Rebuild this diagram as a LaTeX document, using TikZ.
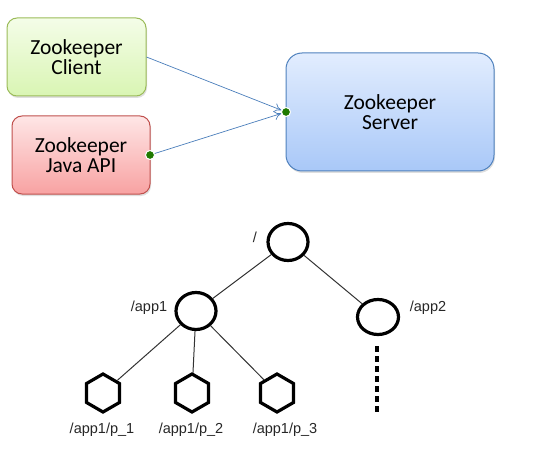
\documentclass[tikz,border=0pt]{standalone}
\usepackage{fontspec}
\setmainfont{Carlito}
\newfontfamily\arialfont{Liberation Sans}
\usetikzlibrary{shapes.geometric,arrows.meta,shadows}
\definecolor{gtop}{HTML}{F4FDE8}
\definecolor{gbot}{HTML}{D9F5B3}
\definecolor{gline}{HTML}{9BBB59}
\definecolor{rtop}{HTML}{FEE6E6}
\definecolor{rbot}{HTML}{F8A2A2}
\definecolor{rline}{HTML}{C0504D}
\definecolor{btop}{HTML}{E2EDFE}
\definecolor{bbot}{HTML}{A9C8F8}
\definecolor{bline}{HTML}{4F81BD}
\definecolor{arrline}{HTML}{4A7EBB}
\definecolor{dotgreen}{HTML}{1F7A00}
\tikzset{
  compbox/.style={draw, line width=1pt, rounded corners=10pt, align=center,
    font=\fontsize{21.5}{20}\selectfont, inner sep=0pt,
    drop shadow={opacity=0.25, shadow xshift=1pt, shadow yshift=-2pt}},
  joint/.style={circle, fill=dotgreen, draw=white, line width=1pt, inner sep=0pt, minimum size=9pt},
  link/.style={draw=arrline, line width=0.7pt, -{To[open, length=7pt, width=9pt]}},
  znode/.style={ellipse, draw, line width=3.2pt, inner sep=0pt},
  leaf/.style={regular polygon, regular polygon sides=6, shape border rotate=30, draw, line width=3.2pt, inner sep=0pt, minimum size=38pt},
  tlabel/.style={font=\arialfont\fontsize{14.5}{14.5}\selectfont, text=black!85, inner sep=0pt},
  tedge/.style={draw=black!80, line width=1pt}
}
\begin{document}
\begin{tikzpicture}[x=1pt,y=-1pt]
\useasboundingbox (0,0) rectangle (534,462);
% component boxes
\node[compbox, draw=gline, top color=gtop, bottom color=gbot, minimum width=139pt, minimum height=78pt] (client) at (76.5,57) {Zookeeper\\Client};
\node[compbox, draw=rline, top color=rtop, bottom color=rbot, minimum width=138pt, minimum height=78pt] (japi) at (81,155) {Zookeeper\\Java API};
\node[compbox, draw=bline, top color=btop, bottom color=bbot, rounded corners=16pt, minimum width=208pt, minimum height=118pt] (server) at (390,112) {Zookeeper\\Server};
\node[joint] (d1) at (286,112) {};
\node[joint] (d2) at (150,155) {};
\draw[link] (client.east) -- (d1);
\draw[link] (d2) -- (d1);
% tree
\node[znode, minimum width=40pt, minimum height=37pt] (root) at (288,242) {};
\node[znode, minimum width=40pt, minimum height=37pt] (app1) at (196,311) {};
\node[znode, minimum width=41pt, minimum height=35pt] (app2) at (378,317) {};
\node[leaf] (p1) at (103,393) {};
\node[leaf] (p2) at (192,393) {};
\node[leaf] (p3) at (277,393) {};
\draw[tedge] (root) -- (app1);
\draw[tedge] (root) -- (app2);
\draw[tedge] (app1) -- (p1);
\draw[tedge] (app1) -- (p2);
\draw[tedge] (app1) -- (p3);
\coordinate (dtop) at (377,346);
\coordinate (dbot) at (377,414);
\draw[line width=3.5pt, dash pattern=on 5.5pt off 4.5pt] (dtop) -- (dbot);
\node[tlabel] (lroot) at (255,237) {/};
\node[tlabel] (lapp1) at (149,308) {/app1};
\node[tlabel] (lapp2) at (428,308) {/app2};
\node[tlabel] (lp1) at (102,430) {/app1/p\_1};
\node[tlabel] (lp2) at (191,430) {/app1/p\_2};
\node[tlabel] (lp3) at (285,430) {/app1/p\_3};
\end{tikzpicture}
\end{document}
